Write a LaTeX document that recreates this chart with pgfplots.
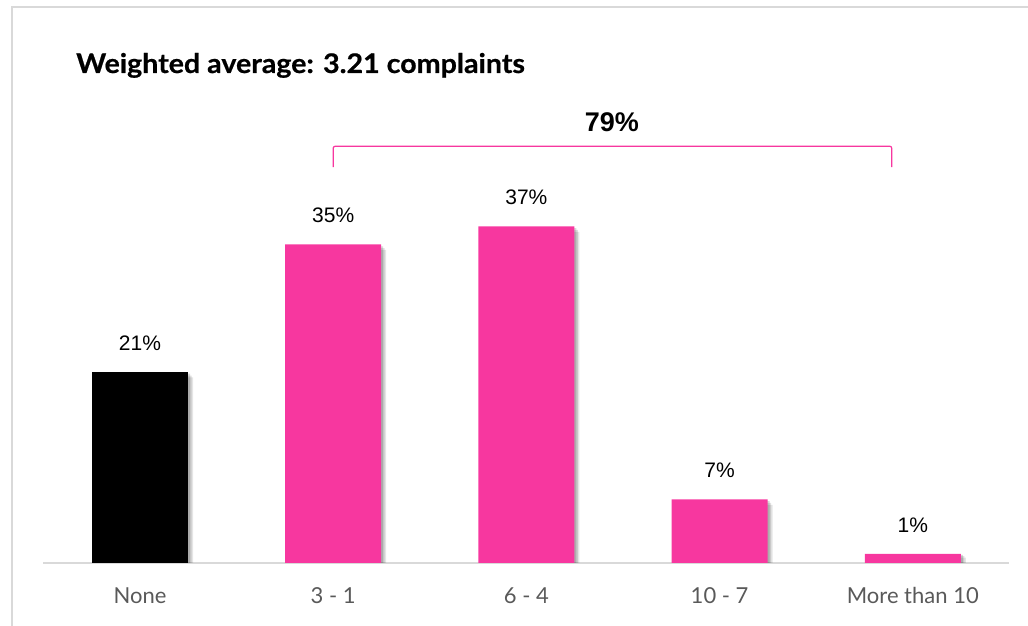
\documentclass[border=0pt]{standalone}
\usepackage{pgfplots}
\pgfplotsset{compat=1.18}
\usepackage{fontspec}
\setmainfont{Liberation Sans}
\newfontfamily\srcfont{Lato}
\newfontfamily\titlefont{Lato}[FakeStretch=1.06, FakeBold=0.6]
\definecolor{pinkbar}{HTML}{F7379F}
\definecolor{framegray}{HTML}{D9D9D9}
\definecolor{ticktext}{HTML}{595959}
\begin{document}
\begin{tikzpicture}
\useasboundingbox (0pt,0pt) rectangle (1028pt,626pt);
\draw[framegray, line width=2pt] (12pt,-5pt) -- (12pt,619pt) -- (1035pt,619pt);
\node[anchor=base west, inner sep=0pt] at (76pt,553pt) {\fontsize{27}{32}\selectfont\titlefont\bfseries Weighted average: 3.21 complaints};
\begin{axis}[
 at={(43.4pt,63pt)}, anchor=south west, scale only axis,
 width=966pt, height=455pt,
 xmin=-0.5, xmax=4.5, ymin=0, ymax=50,
 axis line style={draw=none}, ytick=\empty,
 xtick={0,1,2,3,4}, xticklabels={None,3 - 1,6 - 4,10 - 7,More than 10},
 major tick length=0pt,
 xticklabel style={anchor=base, inner sep=0pt, yshift=-41pt, font=\fontsize{22}{26}\selectfont\srcfont, text=ticktext},
 ybar, bar width=96pt,
 clip=false,
 /pgf/number format/assume math mode=true,
]
\draw[framegray, line width=2pt] (axis cs:-0.5,0) -- (axis cs:4.5,0);
% shadow layers
\addplot[fill=black, fill opacity=0.10, draw=none, bar shift=5pt] coordinates {(0,20.4) (1,34.4) (2,36.4) (3,6.4) (4,0.6)};
\addplot[fill=black, fill opacity=0.12, draw=none, bar shift=3.5pt] coordinates {(0,20.6) (1,34.6) (2,36.6) (3,6.6) (4,0.75)};
\addplot[fill=black, fill opacity=0.15, draw=none, bar shift=2pt] coordinates {(0,20.8) (1,34.8) (2,36.8) (3,6.8) (4,0.9)};
% bars
\addplot[fill=black, draw=none, bar shift=0pt,
 nodes near coords={\pgfmathprintnumber{\pgfplotspointmeta}\%},
 every node near coord/.append style={anchor=base, inner sep=0pt, yshift=21.5pt, font=\fontsize{21}{25}\selectfont, text=black}] coordinates {(0,21)};
\addplot[fill=pinkbar, draw=none, bar shift=0pt,
 nodes near coords={\pgfmathprintnumber{\pgfplotspointmeta}\%},
 every node near coord/.append style={anchor=base, inner sep=0pt, yshift=21.5pt, font=\fontsize{21}{25}\selectfont, text=black}] coordinates {(1,35) (2,37) (3,7) (4,1)};
\draw[pinkbar, line width=1.2pt, rounded corners=2pt] (axis cs:1,43.5) -- (axis cs:1,45.8) -- (axis cs:3.891,45.8) -- (axis cs:3.891,43.5);
\node[anchor=base, inner sep=0pt, font=\fontsize{27}{32}\selectfont\bfseries] at (axis cs:2.443,47.47) {79\%};
\end{axis}
\end{tikzpicture}
\end{document}
